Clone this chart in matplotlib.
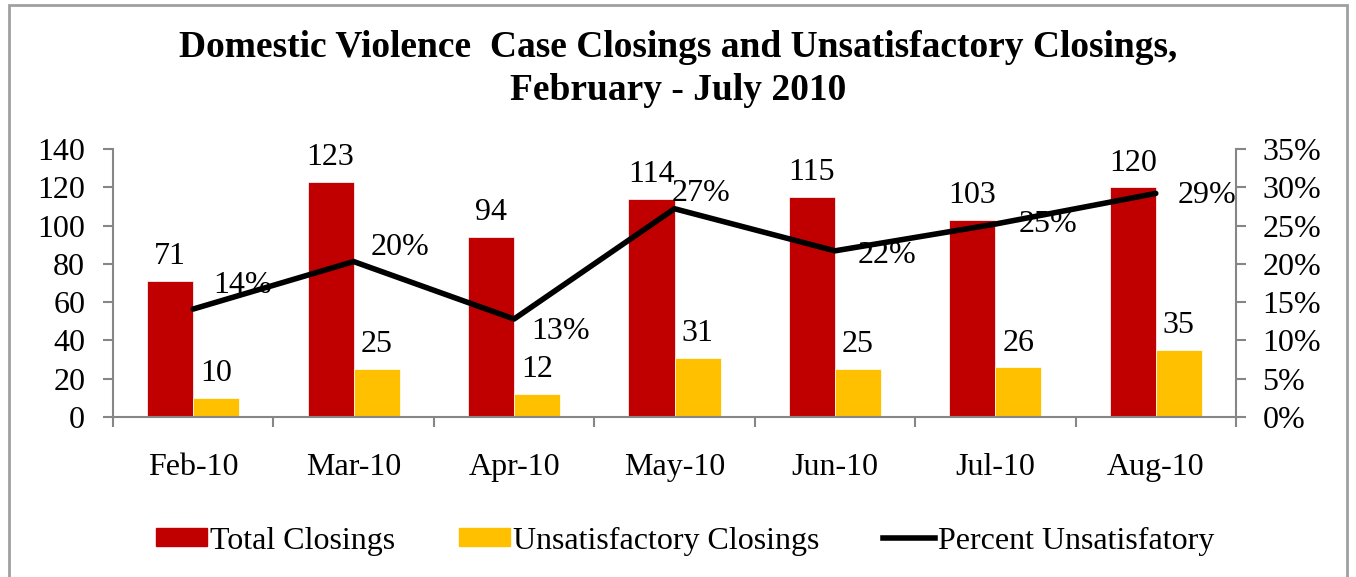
import matplotlib.pyplot as plt
from matplotlib.patches import Rectangle
from matplotlib.lines import Line2D

months = ["Feb-10", "Mar-10", "Apr-10", "May-10", "Jun-10", "Jul-10", "Aug-10"]
total_closings = [71, 123, 94, 114, 115, 103, 120]
unsat_closings = [10, 25, 12, 31, 25, 26, 35]
pct_unsat = [0.141, 0.203, 0.128, 0.272, 0.217, 0.252, 0.292]
pct_labels = ["14%", "20%", "13%", "27%", "22%", "25%", "29%"]

# label nudges (pixels) for the percent labels
pct_offsets = [(20, 24), (17, 14), (17, -13), (-3, 15), (23, -5), (23, 0), (22, -2)]

plt.rcParams['font.family'] = ['Liberation Serif', 'DejaVu Serif']

RED = "#C00000"
GOLD = "#FFC000"
GRAY = "#868686"
FS = 23

fig = plt.figure(figsize=(13.56, 5.77), dpi=100)
ax = fig.add_axes([113 / 1356, 1 - 417 / 577, (1236 - 113) / 1356, (417 - 149) / 577])
ax2 = ax.twinx()

x = list(range(len(months)))
w = 0.287
ax.bar([i - w / 2 for i in x], total_closings, width=w, color=RED, edgecolor="white", linewidth=0.5, zorder=2)
ax.bar([i + w / 2 for i in x], unsat_closings, width=w, color=GOLD, edgecolor="white", linewidth=0.5, zorder=2)

for i in x:
    ax.annotate(str(total_closings[i]), (i - w / 2, total_closings[i]), xytext=(0, 7),
                textcoords="offset points", ha="center", va="bottom", fontsize=FS)
    ax.annotate(str(unsat_closings[i]), (i + w / 2, unsat_closings[i]), xytext=(0, 7),
                textcoords="offset points", ha="center", va="bottom", fontsize=FS)

ax2.plot(x, pct_unsat, color="black", linewidth=4, solid_capstyle="round", zorder=5)
for i in x:
    dx, dy = pct_offsets[i]
    ax2.annotate(pct_labels[i], (i, pct_unsat[i]), xytext=(dx * 0.72, dy * 0.72),
                 textcoords="offset points", ha="left", va="center", fontsize=FS, zorder=6)

ax.set_xlim(-0.5, 6.5)
ax.set_ylim(0, 140)
ax2.set_ylim(0, 0.35)
ax.set_yticks(range(0, 141, 20))
ax2.set_yticks([k * 0.05 for k in range(8)])
ax2.set_yticklabels([f"{k * 5}%" for k in range(8)])

ax.set_xticks(x)
ax.set_xticklabels(months)
ax.set_xticks([i - 0.5 for i in range(8)], minor=True)
ax.tick_params(axis="x", which="major", length=0, pad=26, labelsize=FS)
ax.tick_params(axis="x", which="minor", length=7, width=1.5, color=GRAY, direction="out")
ax.tick_params(axis="y", length=7, width=1.5, color=GRAY, labelsize=FS, pad=13)
ax2.tick_params(axis="y", length=7, width=1.5, color=GRAY, labelsize=FS, pad=12)

for a in (ax, ax2):
    a.spines["top"].set_visible(False)
    for s in ("left", "right", "bottom"):
        a.spines[s].set_color(GRAY)
        a.spines[s].set_linewidth(1.5)
ax.spines["right"].set_visible(False)
ax2.spines["left"].set_visible(False)
ax2.spines["bottom"].set_visible(False)

fig.text(0.5, 1 - 69 / 577, "Domestic Violence  Case Closings and Unsatisfactory Closings,\nFebruary - July 2010",
         ha="center", va="center", fontsize=27, fontweight="bold", linespacing=1.3)

handles = [Rectangle((0, 0), 1, 1, color=RED), Rectangle((0, 0), 1, 1, color=GOLD),
           Line2D([0], [0], color="black", linewidth=4)]
fig.legend(handles, ["Total Closings", "Unsatisfactory Closings", "Percent Unsatisfatory"],
           loc="center", bbox_to_anchor=(0.505, 1 - 541 / 577), ncol=3, frameon=False,
           fontsize=FS, handlelength=1.6, handleheight=0.5, handletextpad=0.1, columnspacing=2.0)

fig.patches.append(Rectangle((9 / 1356, -0.01), (1347 - 9) / 1356, 1 - 5 / 577 + 0.01,
                             transform=fig.transFigure, fill=False, edgecolor="#A0A0A0", linewidth=2))

fig.savefig("out.png", dpi=100)
